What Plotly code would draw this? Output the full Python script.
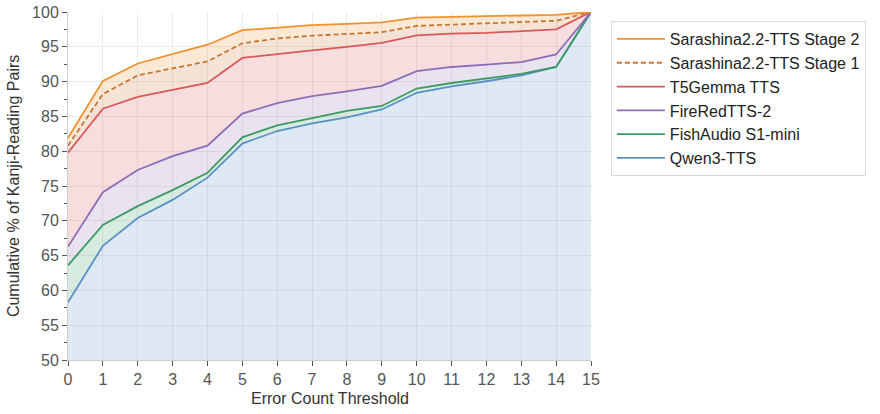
import plotly.graph_objects as go

thresholds = list(range(16))

qwen3 = [58.3, 66.4, 70.4, 73.0, 76.2, 81.1, 82.9, 84.0, 84.85, 86.0, 88.4, 89.3, 90.05, 90.9, 92.1, 100]
fishaudio = [63.6, 69.4, 72.1, 74.4, 76.9, 82.0, 83.7, 84.8, 85.8, 86.5, 89.0, 89.8, 90.4, 91.1, 92.1, 100]
fireredtts = [66.3, 74.1, 77.3, 79.3, 80.8, 85.4, 86.9, 87.9, 88.6, 89.4, 91.5, 92.1, 92.45, 92.8, 93.9, 100]
t5gemma = [79.8, 86.1, 87.8, 88.8, 89.8, 93.4, 94.0, 94.5, 95.0, 95.55, 96.65, 96.9, 97.0, 97.2, 97.5, 100]
sarashina_s1 = [80.8, 88.2, 90.9, 91.9, 92.9, 95.5, 96.2, 96.6, 96.8, 97.1, 98.0, 98.2, 98.4, 98.6, 98.75, 100]
sarashina_s2 = [81.9, 90.1, 92.6, 93.9, 95.3, 97.4, 97.8, 98.1, 98.3, 98.5, 99.2, 99.3, 99.4, 99.5, 99.6, 100]

x_title = "Error Count Threshold"
y_title = "Cumulative % of Kanji-Reading Pairs"

series = [
    ("Qwen3-TTS", qwen3, (90, 144, 199), "solid", "tozeroy"),
    ("FishAudio S1-mini", fishaudio, (61, 154, 99), "solid", "tonexty"),
    ("FireRedTTS-2", fireredtts, (143, 108, 184), "solid", "tonexty"),
    ("T5Gemma TTS", t5gemma, (217, 88, 90), "solid", "tonexty"),
    ("Sarashina2.2-TTS Stage 1", sarashina_s1, (200, 117, 51), "5px,3px", "tonexty"),
    ("Sarashina2.2-TTS Stage 2", sarashina_s2, (240, 146, 46), "solid", "tonexty"),
]

fig = go.Figure()
# translucent bands between consecutive series
for name, vals, (r, g, b), dash, fill in series:
    fig.add_trace(go.Scatter(
        x=thresholds, y=vals, mode="lines", showlegend=False, hoverinfo="skip",
        line=dict(width=0, color=f"rgba({r},{g},{b},0)"),
        fill=fill, fillcolor=f"rgba({r},{g},{b},0.2)",
    ))
# lines on top
for name, vals, (r, g, b), dash, fill in series:
    fig.add_trace(go.Scatter(
        x=thresholds, y=vals, name=name, mode="lines",
        line=dict(color=f"rgb({r},{g},{b})", width=1.8, dash=dash),
    ))

font_family = "Liberation Sans, Arial, sans-serif"
fig.update_layout(
    width=880, height=414,
    margin=dict(l=68, r=289, t=12, b=54, autoexpand=False),
    paper_bgcolor="white", plot_bgcolor="white",
    font=dict(family=font_family, size=16, color="#333"),
    showlegend=True,
    legend=dict(
        traceorder="reversed",
        x=1.038, y=0.974, xanchor="left", yanchor="top",
        bgcolor="white", bordercolor="#d9d9d9", borderwidth=1,
        font=dict(size=16, color="#222"),
        tracegroupgap=0, itemwidth=48,
    ),
    annotations=[
        dict(text=x_title, xref="paper", yref="paper", x=0.5, y=-0.112,
             xanchor="center", yanchor="middle", showarrow=False,
             font=dict(size=16, color="#333")),
        dict(text=y_title, xref="paper", yref="paper", x=-0.105, y=0.5,
             xanchor="center", yanchor="middle", showarrow=False, textangle=-90,
             font=dict(size=16, color="#333")),
    ],
)
fig.update_xaxes(
    range=[0, 15], tickmode="array", tickvals=thresholds,
    ticktext=[str(t) for t in thresholds],
    showgrid=True, gridcolor="#ebebeb", gridwidth=1,
    showline=True, linecolor="#cccccc", linewidth=1,
    ticks="outside", ticklen=5, tickcolor="#555", tickwidth=1,
    tickfont=dict(size=16, color="#555"),
    zeroline=False, automargin=False,
)
fig.update_yaxes(
    range=[50, 100], dtick=5,
    showgrid=True, gridcolor="#ebebeb", gridwidth=1,
    showline=True, linecolor="#cccccc", linewidth=1,
    ticks="outside", ticklen=5, tickcolor="#555", tickwidth=1,
    tickfont=dict(size=16, color="#555"),
    minor=dict(dtick=2.5, ticks="outside", ticklen=3, tickcolor="#555", showgrid=False),
    zeroline=False, automargin=False,
)

fig.write_html("out.html")
